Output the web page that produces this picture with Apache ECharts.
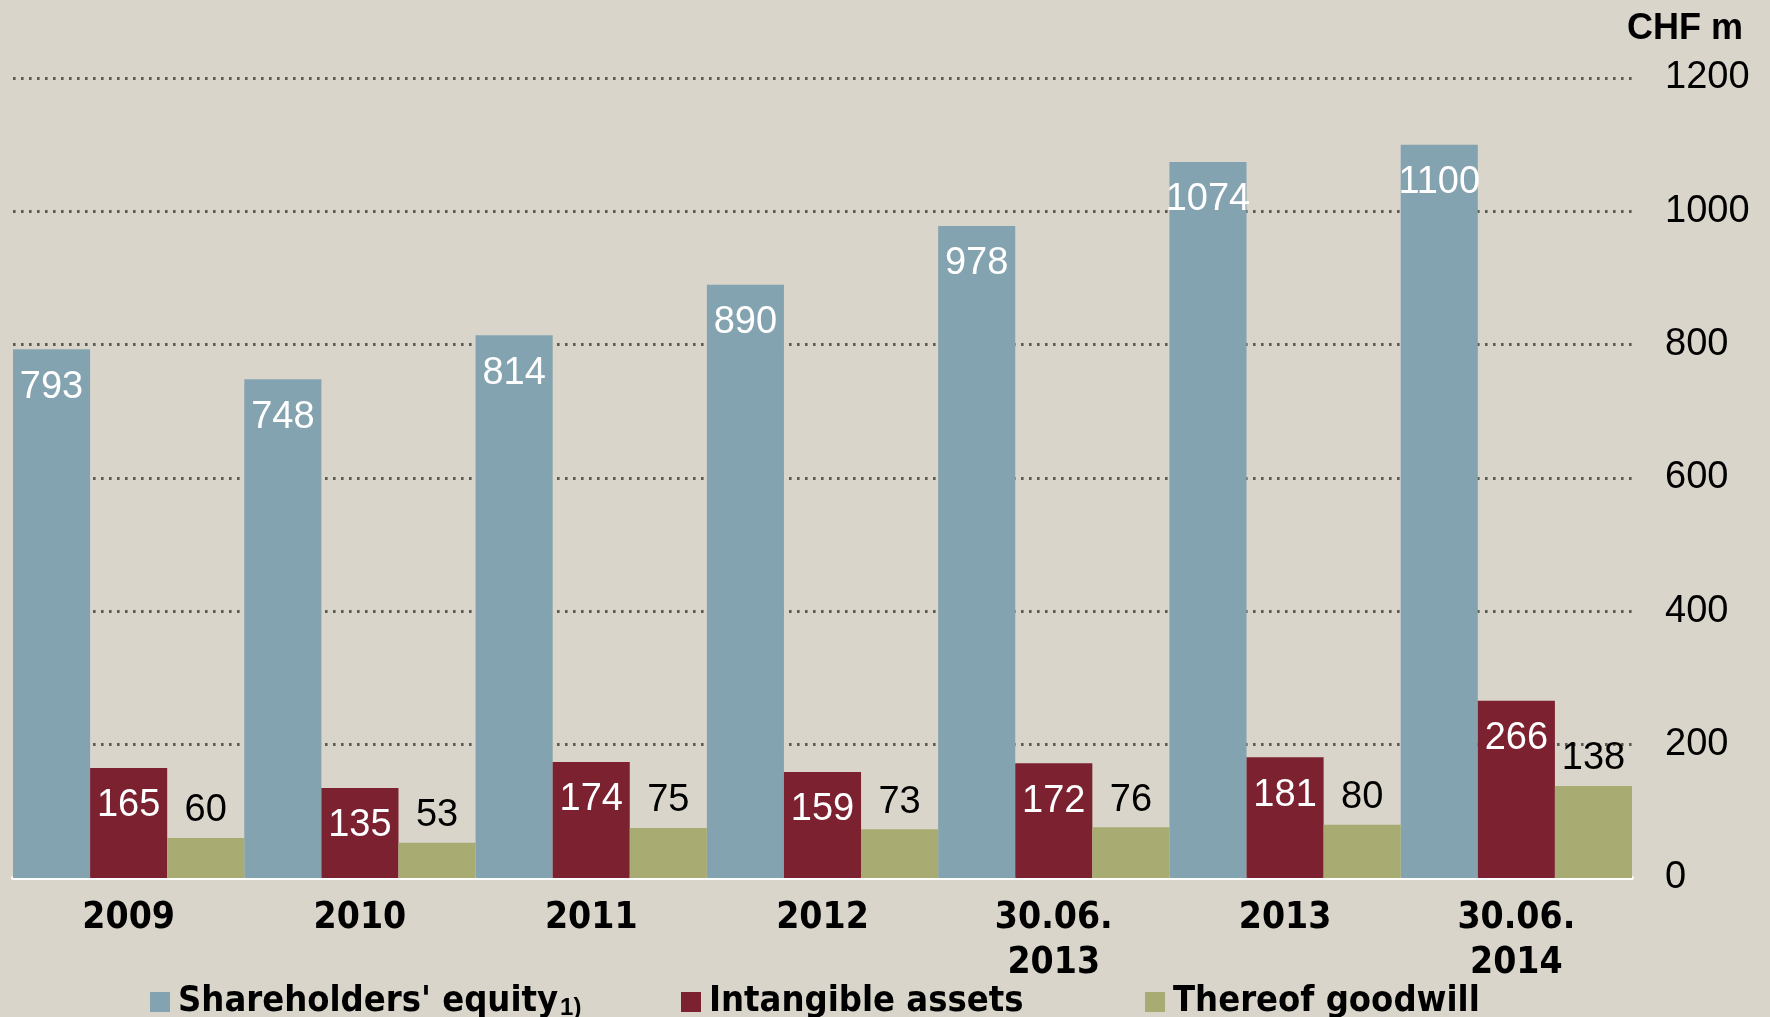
<!DOCTYPE html>
<html>
<head>
<meta charset="utf-8">
<script src="https://cdn.jsdelivr.net/npm/echarts@6/dist/echarts.min.js"></script>
<style>
html,body{margin:0;padding:0;background:#d9d5cb;}
#c{width:1770px;height:1017px;}
</style>
</head>
<body>
<div id="c"></div>
<script>
const categories = ['2009', '2010', '2011', '2012', '30.06.\n2013', '2013', '30.06.\n2014'];
const equity = [793, 748, 814, 890, 978, 1074, 1100];
const intangible = [165, 135, 174, 159, 172, 181, 266];
const goodwill = [60, 53, 75, 73, 76, 80, 138];
const yTicks = [0, 200, 400, 600, 800, 1000, 1200];
const seriesNames = ["Shareholders' equity", 'Intangible assets', 'Thereof goodwill'];
const unitLabel = 'CHF m';

const narrow = "'Liberation Sans Narrow', 'Arial Narrow', 'DejaVu Sans Condensed', sans-serif";
const sans = "'Liberation Sans', Arial, sans-serif";
const colors = ['#84a3b0', '#7c2130', '#a8ab72'];

const chart = echarts.init(document.getElementById('c'));
const insideLabel = {
  show: true, position: 'insideTop', distance: 19, color: '#ffffff',
  fontFamily: sans, fontSize: 38, lineHeight: 38
};
const legendBase = {
  top: 984, padding: 0, itemWidth: 20, itemHeight: 20, icon: 'rect',
  textStyle: {
    fontFamily: narrow, fontWeight: 'bold', fontSize: 36, color: '#000',
    padding: [0, 0, 0, 3],
    rich: {
      a: { fontFamily: narrow, fontWeight: 'bold', fontSize: 36, color: '#000' },
      b: { fontFamily: sans, fontSize: 24, color: '#000', verticalAlign: 'bottom', padding: [0, 0, 0, 2] }
    }
  },
  selectedMode: false
};
chart.setOption({
  backgroundColor: '#d9d5cb',
  animation: false,
  title: {
    text: unitLabel, right: 22, top: 6,
    textStyle: { fontFamily: sans, fontWeight: 'bold', fontSize: 36, color: '#000' }
  },
  legend: [
    Object.assign({}, legendBase, {
      left: 150, data: [seriesNames[0]],
      formatter: n => '{a|' + n + '}{b|1)}'
    }),
    Object.assign({}, legendBase, { left: 681, data: [seriesNames[1]] }),
    Object.assign({}, legendBase, { left: 1145, data: [seriesNames[2]] })
  ],
  grid: { left: 13, right: 138, top: 78, bottom: 139 },
  xAxis: {
    type: 'category', data: categories,
    axisLine: { show: true, lineStyle: { color: '#ffffff', width: 4 } },
    axisTick: { show: false },
    axisLabel: {
      fontFamily: narrow, fontWeight: 'bold', fontSize: 37, lineHeight: 45,
      color: '#000', margin: 18, interval: 0
    }
  },
  yAxis: {
    type: 'value', position: 'right', min: 0, max: 1200, interval: 200,
    axisLine: { show: false }, axisTick: { show: false },
    axisLabel: {
      align: 'left', margin: 33, fontFamily: sans, fontSize: 38, color: '#000',
      padding: [8, 0, 0, 0],
      formatter: v => yTicks.includes(v) ? String(v) : ''
    },
    splitLine: { show: true, lineStyle: { color: '#5c5c52', width: 2.8, type: [2.6, 5.4] } }
  },
  series: [
    {
      name: seriesNames[0], type: 'bar', data: equity, barGap: '0%', barCategoryGap: '0%',
      itemStyle: { color: colors[0] }, label: insideLabel, z: 3
    },
    {
      name: seriesNames[1], type: 'bar', data: intangible, barGap: '0%', barCategoryGap: '0%',
      itemStyle: { color: colors[1] }, label: insideLabel, z: 3
    },
    {
      name: seriesNames[2], type: 'bar', data: goodwill, barGap: '0%', barCategoryGap: '0%',
      itemStyle: { color: colors[2] },
      label: { show: true, position: 'top', distance: 8, color: '#000', fontFamily: sans, fontSize: 38, lineHeight: 38 },
      z: 3
    }
  ]
});
</script>
</body>
</html>
